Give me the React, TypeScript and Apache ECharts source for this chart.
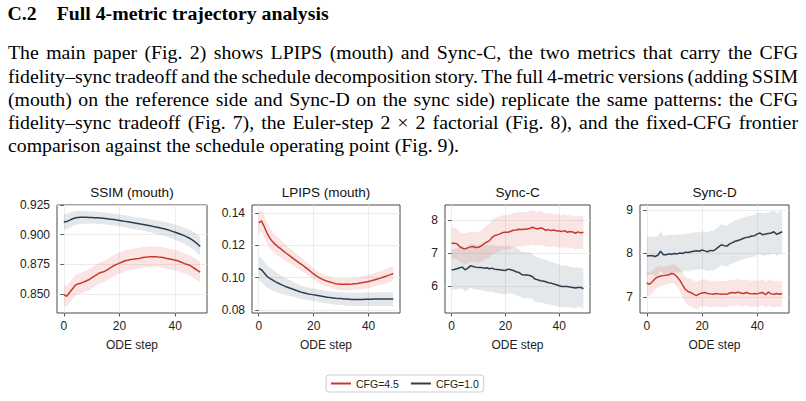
import React, { useEffect, useLayoutEffect, useRef } from 'react';
import * as echarts from 'echarts';

// ---------- data ----------
const steps = Array.from({ length: 50 }, (_, i) => i);
const seriesNames = ['CFG=4.5', 'CFG=1.0'];
const panelTitles = ['SSIM (mouth)', 'LPIPS (mouth)', 'Sync-C', 'Sync-D'];
const xTickValues = [0, 20, 40];

const ssimTicks = [0.85, 0.875, 0.9, 0.925];
const lpipsTicks = [0.08, 0.1, 0.12, 0.14];
const syncCTicks = [6, 7, 8];
const syncDTicks = [7, 8, 9];

const ssimCfg45 = [0.8495, 0.848, 0.851, 0.854, 0.857, 0.8585, 0.859, 0.86, 0.861, 0.862, 0.8635, 0.865, 0.8665, 0.868, 0.8685, 0.8695, 0.871, 0.8725, 0.874, 0.875, 0.876, 0.877, 0.878, 0.8785, 0.879, 0.8792, 0.8797, 0.88, 0.8805, 0.881, 0.8812, 0.8815, 0.8815, 0.8815, 0.8812, 0.881, 0.8805, 0.88, 0.8795, 0.879, 0.8785, 0.878, 0.877, 0.876, 0.875, 0.8745, 0.873, 0.8715, 0.87, 0.8685];
const ssimCfg45Sd = [0.0085, 0.0088, 0.0088, 0.0087, 0.0086, 0.0086, 0.0086, 0.0087, 0.0087, 0.0088, 0.0088, 0.0089, 0.0089, 0.009, 0.009, 0.009, 0.009, 0.009, 0.009, 0.009, 0.009, 0.009, 0.009, 0.009, 0.0089, 0.0089, 0.0088, 0.0088, 0.0088, 0.0087, 0.0087, 0.0087, 0.0086, 0.0086, 0.0086, 0.0086, 0.0086, 0.0086, 0.0086, 0.0086, 0.0086, 0.0086, 0.0086, 0.0086, 0.0086, 0.0086, 0.0086, 0.0086, 0.0086, 0.0086];
const ssimCfg10 = [0.9107, 0.911, 0.912, 0.9132, 0.914, 0.9145, 0.9146, 0.9146, 0.9146, 0.9145, 0.9144, 0.9143, 0.9142, 0.914, 0.9138, 0.9136, 0.9133, 0.913, 0.9127, 0.9124, 0.912, 0.9116, 0.9112, 0.9108, 0.9104, 0.91, 0.9096, 0.9092, 0.9088, 0.9084, 0.908, 0.9075, 0.907, 0.9065, 0.906, 0.9055, 0.905, 0.9043, 0.9036, 0.9028, 0.902, 0.9012, 0.9003, 0.8994, 0.8984, 0.8972, 0.8958, 0.8942, 0.8922, 0.89];
const ssimCfg10Sd = [0.0065, 0.0065, 0.0063, 0.0061, 0.0059, 0.0057, 0.0056, 0.0055, 0.0054, 0.0053, 0.0052, 0.0052, 0.0051, 0.0051, 0.0051, 0.0051, 0.005, 0.005, 0.005, 0.005, 0.005, 0.005, 0.0051, 0.0051, 0.0051, 0.0052, 0.0052, 0.0053, 0.0053, 0.0054, 0.0055, 0.0055, 0.0056, 0.0057, 0.0058, 0.0059, 0.006, 0.0061, 0.0062, 0.0063, 0.0064, 0.0066, 0.0067, 0.0069, 0.007, 0.0072, 0.0074, 0.0076, 0.0078, 0.008];

const lpipsCfg45 = [0.1338, 0.135, 0.1315, 0.1275, 0.1245, 0.1222, 0.1205, 0.119, 0.1178, 0.1163, 0.115, 0.1138, 0.1125, 0.1112, 0.11, 0.1088, 0.1076, 0.1063, 0.105, 0.1036, 0.1022, 0.101, 0.1, 0.099, 0.0983, 0.0977, 0.0972, 0.0967, 0.0962, 0.096, 0.0958, 0.0958, 0.0958, 0.0959, 0.096, 0.0962, 0.0963, 0.0966, 0.0969, 0.0972, 0.0976, 0.098, 0.0985, 0.099, 0.0995, 0.1, 0.1006, 0.1012, 0.1018, 0.1025];
const lpipsCfg45Sd = [0.0067, 0.0067, 0.0066, 0.0064, 0.0062, 0.006, 0.0058, 0.0056, 0.0054, 0.0052, 0.005, 0.0048, 0.0046, 0.0044, 0.0042, 0.0041, 0.004, 0.0038, 0.0037, 0.0036, 0.0035, 0.0034, 0.0034, 0.0034, 0.0034, 0.0034, 0.0034, 0.0034, 0.0035, 0.0035, 0.0035, 0.0036, 0.0036, 0.0037, 0.0037, 0.0038, 0.0038, 0.0039, 0.0039, 0.004, 0.004, 0.0041, 0.0042, 0.0042, 0.0043, 0.0043, 0.0044, 0.0044, 0.0045, 0.0045];
const lpipsCfg10 = [0.1056, 0.1048, 0.1028, 0.1008, 0.0995, 0.0985, 0.0975, 0.0966, 0.0958, 0.095, 0.0943, 0.0937, 0.0931, 0.0925, 0.0918, 0.0912, 0.0907, 0.0903, 0.0899, 0.0896, 0.0893, 0.089, 0.0887, 0.0884, 0.0881, 0.0878, 0.0876, 0.0874, 0.0872, 0.0871, 0.087, 0.0868, 0.0867, 0.0866, 0.0865, 0.0865, 0.0865, 0.0865, 0.0865, 0.0866, 0.0866, 0.0866, 0.0867, 0.0867, 0.0867, 0.0867, 0.0867, 0.0867, 0.0867, 0.0867];
const lpipsCfg10Sd = [0.0075, 0.0074, 0.0072, 0.007, 0.0067, 0.0064, 0.0061, 0.0058, 0.0056, 0.0053, 0.0051, 0.0049, 0.0047, 0.0045, 0.0044, 0.0042, 0.0041, 0.004, 0.0039, 0.0038, 0.0038, 0.0038, 0.0038, 0.0038, 0.0039, 0.0039, 0.0039, 0.004, 0.004, 0.004, 0.004, 0.004, 0.0041, 0.0041, 0.0041, 0.0041, 0.0041, 0.0041, 0.0042, 0.0042, 0.0042, 0.0042, 0.0042, 0.0042, 0.0042, 0.0042, 0.0042, 0.0042, 0.0042, 0.0042];

const syncCCfg45 = [7.3, 7.3, 7.28, 7.2, 7.15, 7.13, 7.16, 7.19, 7.2, 7.17, 7.18, 7.22, 7.28, 7.33, 7.37, 7.47, 7.53, 7.55, 7.58, 7.62, 7.63, 7.63, 7.66, 7.69, 7.7, 7.72, 7.71, 7.72, 7.73, 7.74, 7.78, 7.75, 7.73, 7.76, 7.74, 7.69, 7.71, 7.68, 7.7, 7.67, 7.67, 7.65, 7.68, 7.63, 7.65, 7.64, 7.6, 7.64, 7.61, 7.63];
const syncCCfg45Sd = [0.48, 0.47, 0.46, 0.45, 0.46, 0.47, 0.46, 0.45, 0.44, 0.45, 0.46, 0.47, 0.48, 0.5, 0.51, 0.52, 0.52, 0.53, 0.53, 0.52, 0.52, 0.53, 0.53, 0.52, 0.52, 0.51, 0.52, 0.51, 0.51, 0.52, 0.52, 0.51, 0.5, 0.51, 0.5, 0.5, 0.51, 0.5, 0.49, 0.5, 0.5, 0.49, 0.5, 0.49, 0.5, 0.49, 0.5, 0.49, 0.5, 0.5];
const syncCCfg10 = [6.5, 6.51, 6.53, 6.56, 6.58, 6.5, 6.55, 6.62, 6.6, 6.58, 6.57, 6.57, 6.55, 6.56, 6.53, 6.55, 6.52, 6.51, 6.5, 6.49, 6.48, 6.52, 6.5, 6.48, 6.44, 6.42, 6.36, 6.34, 6.34, 6.33, 6.3, 6.22, 6.2, 6.17, 6.16, 6.14, 6.11, 6.1, 6.07, 6.05, 6.02, 6.0, 6.0, 6.0, 5.98, 5.97, 5.95, 5.97, 5.97, 5.93];
const syncCCfg10Sd = [0.6, 0.6, 0.62, 0.63, 0.64, 0.65, 0.66, 0.66, 0.67, 0.67, 0.68, 0.68, 0.69, 0.7, 0.7, 0.7, 0.71, 0.71, 0.72, 0.72, 0.72, 0.72, 0.71, 0.71, 0.71, 0.7, 0.7, 0.7, 0.69, 0.69, 0.68, 0.68, 0.67, 0.67, 0.66, 0.66, 0.65, 0.65, 0.64, 0.64, 0.63, 0.63, 0.62, 0.62, 0.61, 0.61, 0.61, 0.6, 0.6, 0.6];

const syncDCfg45 = [7.32, 7.29, 7.35, 7.42, 7.46, 7.48, 7.49, 7.5, 7.51, 7.54, 7.52, 7.46, 7.38, 7.27, 7.17, 7.12, 7.1, 7.06, 7.03, 7.07, 7.09, 7.1, 7.08, 7.07, 7.06, 7.08, 7.07, 7.06, 7.07, 7.06, 7.09, 7.1, 7.09, 7.11, 7.09, 7.08, 7.1, 7.08, 7.07, 7.08, 7.07, 7.09, 7.1, 7.05, 7.11, 7.07, 7.06, 7.08, 7.06, 7.08];
const syncDCfg45Sd = [0.27, 0.27, 0.26, 0.25, 0.24, 0.23, 0.22, 0.22, 0.21, 0.21, 0.22, 0.24, 0.26, 0.28, 0.3, 0.31, 0.32, 0.32, 0.32, 0.31, 0.31, 0.31, 0.3, 0.3, 0.3, 0.3, 0.3, 0.3, 0.3, 0.3, 0.3, 0.3, 0.3, 0.3, 0.3, 0.3, 0.3, 0.3, 0.3, 0.3, 0.3, 0.3, 0.3, 0.3, 0.3, 0.3, 0.3, 0.3, 0.3, 0.3];
const syncDCfg10 = [7.94, 7.95, 7.95, 7.93, 7.96, 8.05, 7.97, 7.97, 7.99, 7.98, 8.0, 7.99, 8.01, 8.0, 8.03, 8.02, 8.04, 8.05, 8.06, 8.05, 8.08, 8.06, 8.04, 8.07, 8.06, 8.1, 8.15, 8.2, 8.18, 8.17, 8.22, 8.25, 8.28, 8.3, 8.32, 8.35, 8.37, 8.38, 8.4, 8.41, 8.45, 8.47, 8.43, 8.45, 8.46, 8.47, 8.5, 8.44, 8.47, 8.5];
const syncDCfg10Sd = [0.44, 0.44, 0.44, 0.45, 0.44, 0.45, 0.44, 0.44, 0.44, 0.44, 0.43, 0.44, 0.44, 0.43, 0.43, 0.44, 0.43, 0.43, 0.43, 0.43, 0.43, 0.44, 0.45, 0.45, 0.46, 0.46, 0.47, 0.47, 0.47, 0.47, 0.47, 0.48, 0.48, 0.48, 0.48, 0.48, 0.48, 0.48, 0.48, 0.48, 0.48, 0.48, 0.49, 0.49, 0.49, 0.49, 0.49, 0.49, 0.49, 0.49];

const headingNumber = 'C.2';
const headingText = 'Full 4-metric trajectory analysis';
const paragraphLines = [
  'The main paper (Fig. 2) shows LPIPS (mouth) and Sync-C, the two metrics that carry the CFG',
  'fidelity\u2013sync tradeoff and the schedule decomposition story. The full 4-metric versions (adding SSIM',
  '(mouth) on the reference side and Sync-D on the sync side) replicate the same patterns: the CFG',
  'fidelity\u2013sync tradeoff (Fig. 7), the Euler-step 2 \u00d7 2 factorial (Fig. 8), and the fixed-CFG frontier',
  'comparison against the schedule operating point (Fig. 9).',
];

// ---------- layout / style ----------
const RED = '#c9392b';
const NAVY = '#2c3e50';
const RED_BAND = 'rgba(214, 80, 70, 0.15)';
const NAVY_BAND = 'rgba(44, 62, 80, 0.12)';
const SANS = 'Liberation Sans, Arial, sans-serif';
const SERIF = 'Liberation Serif, Times New Roman, serif';

const panels = [
  { grid: { left: 57, top: 205, width: 150, height: 108 }, min: 0.834, max: 0.925, ticks: ssimTicks, digits: 3,
    red: ssimCfg45, redSd: ssimCfg45Sd, navy: ssimCfg10, navySd: ssimCfg10Sd },
  { grid: { left: 252, top: 205, width: 148, height: 108 }, min: 0.0781, max: 0.1448, ticks: lpipsTicks, digits: 2,
    red: lpipsCfg45, redSd: lpipsCfg45Sd, navy: lpipsCfg10, navySd: lpipsCfg10Sd },
  { grid: { left: 445, top: 205, width: 145, height: 108 }, min: 5.2, max: 8.45, ticks: syncCTicks, digits: 0,
    red: syncCCfg45, redSd: syncCCfg45Sd, navy: syncCCfg10, navySd: syncCCfg10Sd },
  { grid: { left: 640, top: 205, width: 149, height: 108 }, min: 6.63, max: 9.115, ticks: syncDTicks, digits: 0,
    red: syncDCfg45, redSd: syncDCfg45Sd, navy: syncDCfg10, navySd: syncDCfg10Sd },
];

function JLine(props: { text: string; left: number; top: number; width: number; justify: boolean; style: any }) {
  const ref = useRef<HTMLSpanElement>(null);
  useLayoutEffect(() => {
    const fit = () => {
      const el = ref.current;
      if (!el) return;
      el.style.wordSpacing = '0px';
      if (!props.justify) return;
      const w = el.getBoundingClientRect().width;
      const n = (props.text.match(/ /g) || []).length;
      if (n > 0) el.style.wordSpacing = `${(props.width - w) / n}px`;
    };
    fit();
    if ((document as any).fonts && (document as any).fonts.ready) (document as any).fonts.ready.then(fit);
  }, [props.text, props.width, props.justify]);
  return (
    <span ref={ref} style={{ position: 'absolute', left: props.left, top: props.top, whiteSpace: 'pre', ...props.style }}>
      {props.text}
    </span>
  );
}

function bandRenderer(color: string) {
  return (params: any, api: any) => {
    if (params.dataIndexInside !== 0) return null;
    const n = params.dataInsideLength;
    const upper: number[][] = [];
    const lower: number[][] = [];
    for (let k = 0; k < n; k++) {
      const x = api.value(0, k);
      upper.push(api.coord([x, api.value(2, k)]));
      lower.push(api.coord([x, api.value(1, k)]));
    }
    return {
      type: 'polygon',
      shape: { points: upper.concat(lower.reverse()) },
      style: { fill: color, stroke: 'none' },
      silent: true,
    };
  };
}

function buildOption() {
  const grids: any[] = [];
  const xAxes: any[] = [];
  const yAxes: any[] = [];
  const series: any[] = [];
  const graphics: any[] = [];
  const labelStyle = { fontFamily: SANS, fontSize: 12, color: '#222' };

  panels.forEach((p, i) => {
    grids.push({ ...p.grid, show: true, borderColor: '#333', borderWidth: 0.9, backgroundColor: 'transparent', containLabel: false });
    xAxes.push({
      type: 'value', gridIndex: i, min: -2.45, max: 51.45,
      axisLine: { show: false },
      axisTick: { show: true, length: 3.5, lineStyle: { color: '#333', width: 0.8 }, customValues: xTickValues },
      axisLabel: { ...labelStyle, margin: 7, customValues: xTickValues, formatter: (v: number) => String(v) },
      splitLine: { show: true, lineStyle: { color: '#e8e8e8', width: 0.8 } },
      name: 'ODE step', nameLocation: 'middle', nameGap: 26,
      nameTextStyle: { ...labelStyle },
    });
    yAxes.push({
      type: 'value', gridIndex: i, min: p.min, max: p.max, scale: true,
      axisLine: { show: false },
      axisTick: { show: true, length: 3.5, lineStyle: { color: '#333', width: 0.8 }, customValues: p.ticks },
      axisLabel: { ...labelStyle, margin: 7, customValues: p.ticks, formatter: (v: number) => v.toFixed(p.digits) },
      splitLine: { show: true, lineStyle: { color: '#e8e8e8', width: 0.8 } },
    });

    const bands = [
      { mean: p.navy, sd: p.navySd, color: NAVY_BAND },
      { mean: p.red, sd: p.redSd, color: RED_BAND },
    ];
    bands.forEach((b) => {
      series.push({
        type: 'custom', xAxisIndex: i, yAxisIndex: i, silent: true, z: 1,
        renderItem: bandRenderer(b.color),
        encode: { x: 0, y: [1, 2] },
        data: steps.map((s, k) => [s, b.mean[k] - b.sd[k], b.mean[k] + b.sd[k]]),
      });
    });
    series.push({
      name: seriesNames[0], type: 'line', xAxisIndex: i, yAxisIndex: i, symbol: 'none',
      lineStyle: { color: RED, width: 1.5 }, itemStyle: { color: RED },
      data: steps.map((s, k) => [s, p.red[k]]), z: 3,
    });
    series.push({
      name: seriesNames[1], type: 'line', xAxisIndex: i, yAxisIndex: i, symbol: 'none',
      lineStyle: { color: NAVY, width: 1.5 }, itemStyle: { color: NAVY },
      data: steps.map((s, k) => [s, p.navy[k]]), z: 3,
    });
    graphics.push({
      type: 'text', x: p.grid.left + p.grid.width / 2, y: 192,
      style: { text: panelTitles[i], fill: '#111', font: `13.5px ${SANS}`, align: 'center', verticalAlign: 'middle' },
    });
  });

  return {
    animation: false,
    grid: grids,
    xAxis: xAxes,
    yAxis: yAxes,
    series,
    graphic: graphics,
    legend: {
      data: [{ name: seriesNames[0], icon: 'rect' }, { name: seriesNames[1], icon: 'rect' }],
      left: 326, top: 375, orient: 'horizontal',
      itemWidth: 20, itemHeight: 2, itemGap: 12,
      padding: [3, 5, 3, 5],
      borderColor: '#cccccc', borderWidth: 1, borderRadius: 3,
      backgroundColor: '#fff',
      textStyle: { fontFamily: SANS, fontSize: 10.5, color: '#222' },
    },
  };
}

export default function App() {
  const ref = useRef<HTMLDivElement>(null);
  useEffect(() => {
    if (!ref.current) return;
    const chart = echarts.init(ref.current, undefined, { renderer: 'svg' });
    chart.setOption(buildOption());
    return () => chart.dispose();
  }, []);

  const paraStyle = { fontFamily: SERIF, fontSize: 19.8, lineHeight: '21px', color: '#000' };
  const headStyle = { fontFamily: SERIF, fontSize: 19.8, lineHeight: '20px', fontWeight: 'bold', color: '#000' };
  const baselines = [59.5, 82.8, 106, 129.3, 152.5];

  return (
    <div style={{ position: 'absolute', left: 0, top: 0, width: 806, height: 401, background: '#fff', overflow: 'hidden' }}>
      <div ref={ref} style={{ position: 'absolute', left: 0, top: 0, width: 806, height: 401 }} />
      <JLine text={headingNumber} left={7.5} top={2.5} width={0} justify={false} style={headStyle} />
      <JLine text={headingText} left={56.7} top={2.5} width={0} justify={false} style={headStyle} />
      {paragraphLines.map((t, i) => (
        <JLine key={i} text={t} left={8} top={baselines[i] - 17.2} width={790} justify={i < paragraphLines.length - 1} style={paraStyle} />
      ))}
    </div>
  );
}
